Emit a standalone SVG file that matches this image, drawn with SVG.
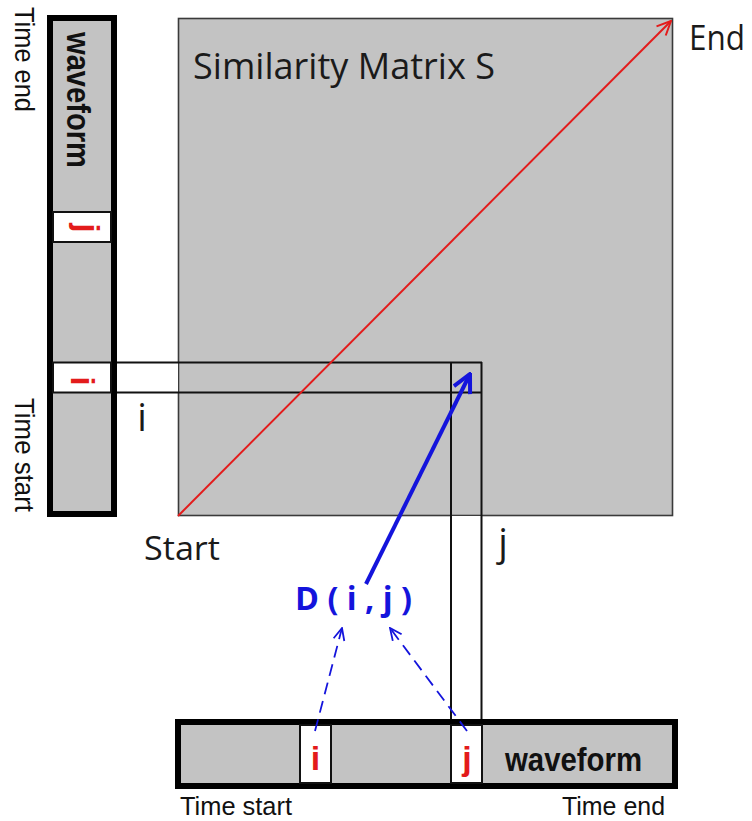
<svg xmlns="http://www.w3.org/2000/svg" width="752" height="821" viewBox="0 0 752 821">
<style>
.bg{fill:#ffffff}
.bar{fill:#c3c3c3;stroke:#000;stroke-width:6}
.cell{fill:#ffffff;stroke:#111;stroke-width:2}
.grid{fill:none;stroke:#111;stroke-width:2}
.mat{fill:#c3c3c3;stroke:#3a3a3a;stroke-width:1.6}
.sans{font-family:"Liberation Sans",Arial,sans-serif;fill:#111}
.seg{font-family:"Open Sans","Noto Sans",sans-serif;fill:#1a1a1a}
.bold{font-weight:bold}
.red{fill:#e31b1b}
.blue{fill:#1414dc}
</style>
<defs>
<marker id="arrRed" markerUnits="userSpaceOnUse" viewBox="0 0 16 16" markerWidth="16" markerHeight="16" refX="15" refY="8" orient="auto">
<path d="M1,1.5 L15,8 L1,14.5" fill="none" stroke="#e31b1b" stroke-width="2"/>
</marker>
<marker id="arrBlue" markerUnits="userSpaceOnUse" viewBox="0 0 22 22" markerWidth="22" markerHeight="22" refX="20" refY="11" orient="auto">
<path d="M2,2 L20,11 L2,20" fill="none" stroke="#1414dc" stroke-width="4"/>
</marker>
<marker id="arrDash" markerUnits="userSpaceOnUse" viewBox="0 0 14 14" markerWidth="14" markerHeight="14" refX="13" refY="7" orient="auto">
<path d="M1,1.5 L13,7 L1,12.5" fill="none" stroke="#1414dc" stroke-width="1.8"/>
</marker>
</defs>
<rect class="bg" x="0" y="0" width="752" height="821"/>

<g id="matrix">
<rect class="mat" x="178.5" y="18.5" width="494" height="497"/>
<text class="seg" x="193" y="79" font-size="36" textLength="302" lengthAdjust="spacingAndGlyphs" style="font-weight:500">Similarity Matrix S</text>
</g>

<g id="row-band">
<rect x="117" y="362" width="61" height="31" fill="#ffffff"/>
<line class="grid" x1="117" y1="362.5" x2="482" y2="362.5"/>
<line class="grid" x1="117" y1="392.5" x2="482" y2="392.5"/>
</g>

<g id="col-band">
<rect x="451" y="516" width="31" height="204" fill="#ffffff"/>
<line class="grid" x1="451" y1="362" x2="451" y2="720"/>
<line class="grid" x1="481.5" y1="362" x2="481.5" y2="720"/>
</g>

<g id="left-waveform">
<rect class="bar" x="50" y="18" width="64" height="496"/>
<rect class="cell" x="53" y="212" width="58" height="30"/>
<rect class="cell" x="53" y="362.5" width="58" height="30"/>
<text class="sans bold" transform="translate(67,32) rotate(90)" font-size="33" textLength="136" lengthAdjust="spacingAndGlyphs">waveform</text>
<text class="sans bold red" transform="translate(76,228) rotate(90)" font-size="34" text-anchor="middle">j</text>
<text class="sans bold red" transform="translate(71,381) rotate(90)" font-size="34" text-anchor="middle">i</text>
</g>

<g id="bottom-waveform">
<rect class="bar" x="178" y="722" width="497" height="64"/>
<rect class="cell" x="300" y="725" width="31" height="58"/>
<rect class="cell" x="451" y="725" width="31" height="58"/>
<text class="sans bold" x="505" y="771" font-size="33" textLength="137" lengthAdjust="spacingAndGlyphs">waveform</text>
<text class="sans bold red" x="315.5" y="770" font-size="34" text-anchor="middle">i</text>
<text class="sans bold red" x="467" y="770" font-size="34" text-anchor="middle">j</text>
</g>

<g id="labels">
<text class="sans" transform="translate(15,7) rotate(90)" font-size="27" textLength="105" lengthAdjust="spacingAndGlyphs">Time end</text>
<text class="sans" transform="translate(15,398) rotate(90)" font-size="27" textLength="114" lengthAdjust="spacingAndGlyphs">Time start</text>
<text class="sans" x="180" y="815" font-size="26" textLength="112" lengthAdjust="spacingAndGlyphs">Time start</text>
<text class="sans" x="562" y="815" font-size="26" textLength="103" lengthAdjust="spacingAndGlyphs">Time end</text>
<text class="seg" x="689" y="50" font-size="34" textLength="56" lengthAdjust="spacingAndGlyphs" style="font-weight:500">End</text>
<text class="seg" x="144" y="560" font-size="33" textLength="76" lengthAdjust="spacingAndGlyphs" style="font-weight:500">Start</text>
<text class="seg" x="142" y="431" font-size="38" text-anchor="middle" style="font-weight:500">i</text>
<text class="seg" x="503" y="556" font-size="38" text-anchor="middle" style="font-weight:500">j</text>
</g>

<g id="D-label">
<text class="seg bold blue" x="295" y="610" font-size="32" textLength="117" lengthAdjust="spacingAndGlyphs">D ( i , j )</text>
</g>

<g id="connectors">
<line x1="178" y1="516" x2="671" y2="21" stroke="#e31b1b" stroke-width="2" marker-end="url(#arrRed)"/>
<line x1="366" y1="584" x2="470" y2="374" stroke="#1414dc" stroke-width="4" marker-end="url(#arrBlue)"/>
<line x1="315" y1="731" x2="342" y2="628" stroke="#1414dc" stroke-width="1.8" stroke-dasharray="12,7" marker-end="url(#arrDash)"/>
<line x1="467" y1="731" x2="390" y2="628" stroke="#1414dc" stroke-width="1.8" stroke-dasharray="12,7" marker-end="url(#arrDash)"/>
</g>
</svg>
